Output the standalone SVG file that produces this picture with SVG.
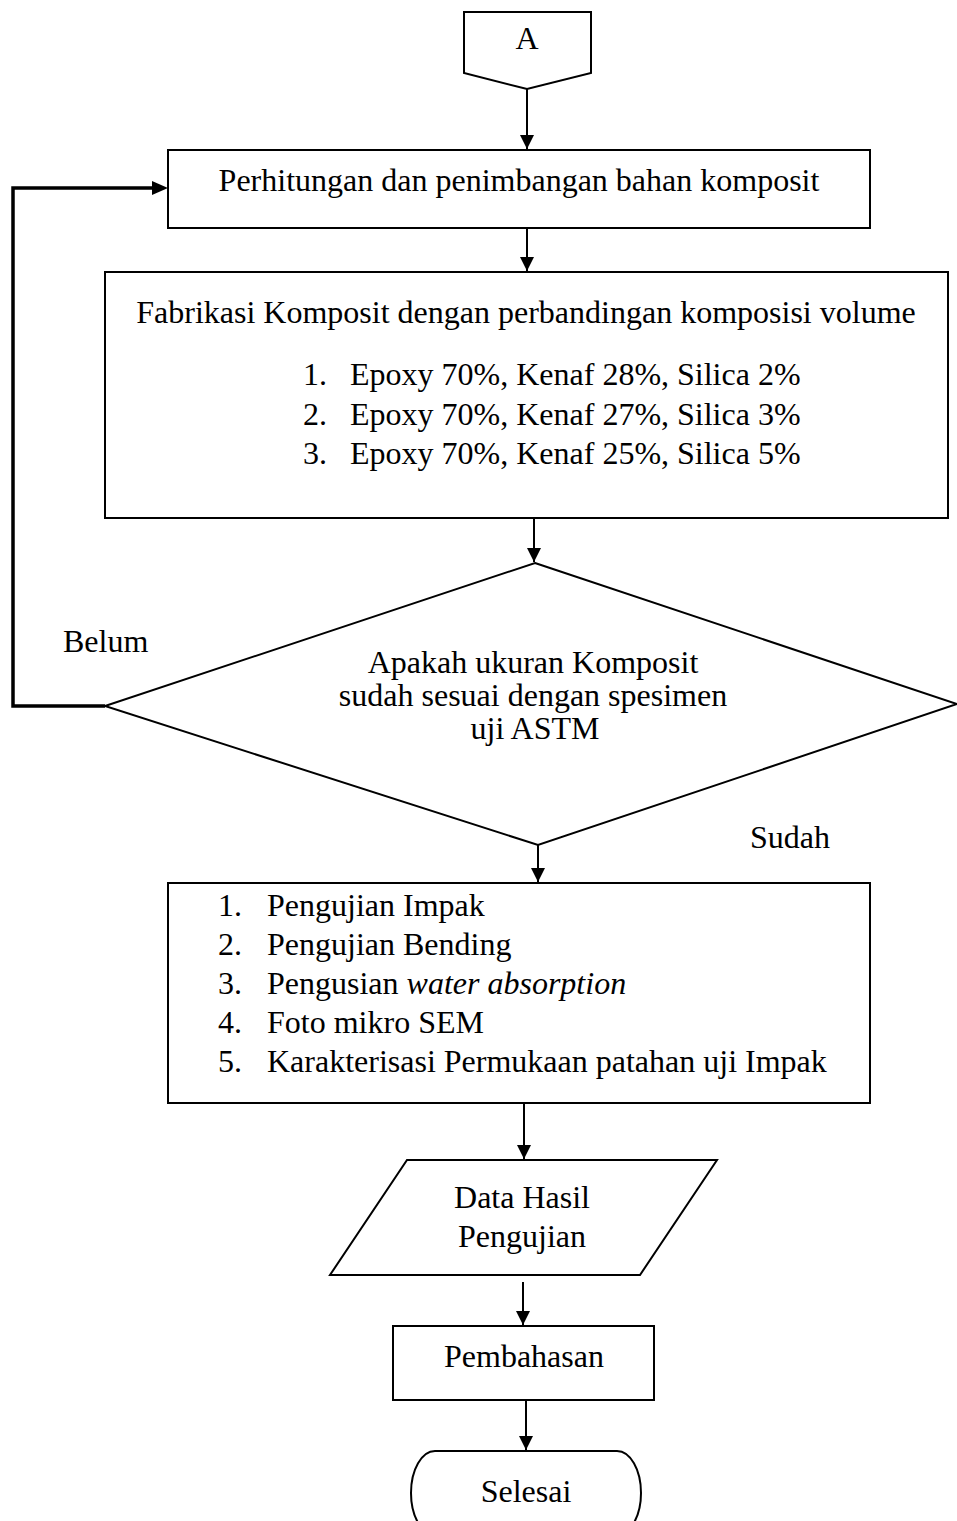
<svg xmlns="http://www.w3.org/2000/svg" width="957" height="1521" viewBox="0 0 957 1521">
<style>
.s{fill:#fff;stroke:#000;stroke-width:2}
.t{font-family:"Liberation Serif","Times New Roman",serif;font-size:32px;fill:#000}
.c{text-anchor:middle}
.ln{fill:none;stroke:#000;stroke-width:2}
.fb{fill:none;stroke:#000;stroke-width:3.5}
</style>
<defs>
<marker id="ah" markerUnits="userSpaceOnUse" markerWidth="14" markerHeight="14" refX="14" refY="7" orient="auto">
<path d="M0,0 L14,7 L0,14 z" fill="#000"/>
</marker>
</defs>
<rect width="957" height="1521" fill="#fff"/>
<g id="connectors">
<line class="ln" x1="527" y1="89" x2="527" y2="149" marker-end="url(#ah)"/>
<line class="ln" x1="527" y1="228" x2="527" y2="271" marker-end="url(#ah)"/>
<line class="ln" x1="534" y1="518" x2="534" y2="562" marker-end="url(#ah)"/>
<line class="ln" x1="538" y1="845" x2="538" y2="882" marker-end="url(#ah)"/>
<line class="ln" x1="524" y1="1103" x2="524" y2="1159" marker-end="url(#ah)"/>
<line class="ln" x1="523" y1="1282" x2="523" y2="1325" marker-end="url(#ah)"/>
<line class="ln" x1="526" y1="1400" x2="526" y2="1450" marker-end="url(#ah)"/>
<polyline class="fb" points="105,706 13,706 13,188 155,188"/>
<path d="M152,181 L168,188 L152,195 z" fill="#000"/>
<text class="t" x="63" y="652">Belum</text>
<text class="t" x="750" y="848">Sudah</text>
</g>
<g id="nodeA">
<path class="s" d="M464,12 L591,12 L591,73 L527,89 L464,73 z"/>
<text class="t c" x="527" y="49">A</text>
</g>
<g id="node1">
<rect class="s" x="168" y="150" width="702" height="78"/>
<text class="t c" x="519" y="191">Perhitungan dan penimbangan bahan komposit</text>
</g>
<g id="node2">
<rect class="s" x="105" y="272" width="843" height="246"/>
<text class="t c" x="526" y="323">Fabrikasi Komposit dengan perbandingan komposisi volume</text>
<text class="t" x="303" y="385">1.</text><text class="t" x="350" y="385">Epoxy 70%, Kenaf 28%, Silica 2%</text>
<text class="t" x="303" y="425">2.</text><text class="t" x="350" y="425">Epoxy 70%, Kenaf 27%, Silica 3%</text>
<text class="t" x="303" y="464">3.</text><text class="t" x="350" y="464">Epoxy 70%, Kenaf 25%, Silica 5%</text>
</g>
<g id="decision">
<path class="s" d="M535,563 L957,704 L538,845 L105,706 z"/>
<text class="t c" x="533" y="673">Apakah ukuran Komposit</text>
<text class="t c" x="533" y="706">sudah sesuai dengan spesimen</text>
<text class="t c" x="535" y="739">uji ASTM</text>
</g>
<g id="node3">
<rect class="s" x="168" y="883" width="702" height="220"/>
<text class="t" x="218" y="916">1.</text><text class="t" x="267" y="916">Pengujian Impak</text>
<text class="t" x="218" y="955">2.</text><text class="t" x="267" y="955">Pengujian Bending</text>
<text class="t" x="218" y="994">3.</text><text class="t" x="267" y="994">Pengusian <tspan font-style="italic">water absorption</tspan></text>
<text class="t" x="218" y="1033">4.</text><text class="t" x="267" y="1033">Foto mikro SEM</text>
<text class="t" x="218" y="1072">5.</text><text class="t" x="267" y="1072">Karakterisasi Permukaan patahan uji Impak</text>
</g>
<g id="data">
<path class="s" d="M407,1160 L717,1160 L640,1275 L330,1275 z"/>
<text class="t c" x="522" y="1208">Data Hasil</text>
<text class="t c" x="522" y="1247">Pengujian</text>
</g>
<g id="pembahasan">
<rect class="s" x="393" y="1326" width="261" height="74"/>
<text class="t c" x="524" y="1367">Pembahasan</text>
</g>
<g id="selesai">
<rect class="s" x="411" y="1451" width="230" height="84" rx="24" ry="42"/>
<text class="t c" x="526" y="1502">Selesai</text>
</g>
</svg>
